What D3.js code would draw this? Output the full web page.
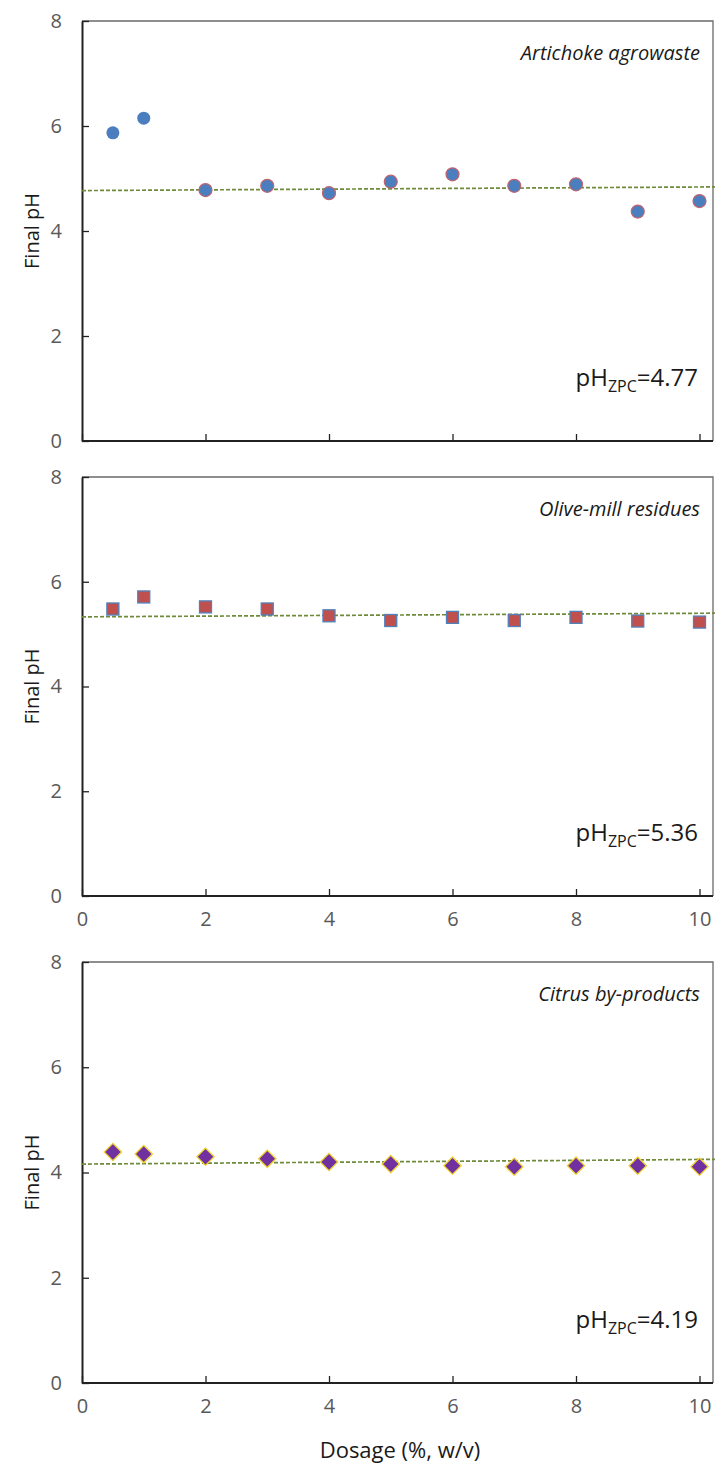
<!DOCTYPE html>
<html>
<head>
<meta charset="utf-8">
<script src="https://cdn.jsdelivr.net/npm/d3@7"></script>
<style>
  body { margin: 0; background: #fff; }
  svg text { font-family: "Open Sans", sans-serif; }
  .tick text { fill: #595959; font-size: 20px; }
</style>
</head>
<body>
<div id="chart"></div>
<script>
const W = 716, H = 1472;

// data
const dosage = [0.5, 1, 2, 3, 4, 5, 6, 7, 8, 9, 10];
const artichokePH = [5.87, 6.15, 4.78, 4.86, 4.72, 4.94, 5.08, 4.86, 4.89, 4.37, 4.57];
const oliveMillPH = [5.48, 5.71, 5.52, 5.48, 5.35, 5.26, 5.32, 5.26, 5.32, 5.25, 5.23];
const citrusPH = [4.39, 4.35, 4.30, 4.26, 4.20, 4.16, 4.13, 4.11, 4.13, 4.13, 4.11];
const trendX = [0, 10.25];
const artichokeTrend = [4.77, 4.84];
const oliveMillTrend = [5.33, 5.40];
const citrusTrend = [4.16, 4.25];
const panelNames = ["Artichoke agrowaste", "Olive-mill residues", "Citrus by-products"];
const zpcValues = ["4.77", "5.36", "4.19"];
const yTicks = [0, 2, 4, 6, 8];
const xTicks = [0, 2, 4, 6, 8, 10];

const left = 82, xEnd = 699.5, frameRight = 713;
const panels = [
  { top: 21, bottom: 441, values: artichokePH, trend: artichokeTrend, marker: "circle", xLabels: false },
  { top: 477, bottom: 896, values: oliveMillPH, trend: oliveMillTrend, marker: "square", xLabels: true },
  { top: 962, bottom: 1383, values: citrusPH, trend: citrusTrend, marker: "diamond", xLabels: true }
];

const svg = d3.select("#chart").append("svg")
  .attr("width", W)
  .attr("height", H);

const x = d3.scaleLinear().domain([0, 10]).range([left, xEnd]);

panels.forEach((p, k) => {
  const y = d3.scaleLinear().domain([0, 8]).range([p.bottom, p.top]);
  const g = svg.append("g");

  // top and right frame
  g.append("path")
    .attr("d", `M${left},${p.top}H${frameRight}V${p.bottom}`)
    .attr("fill", "none")
    .attr("stroke", "#6a6a6a")
    .attr("stroke-width", 1.3);

  const yAxis = g.append("g")
    .attr("transform", `translate(${left},0)`)
    .call(d3.axisLeft(y).tickValues(yTicks).tickSize(-7).tickSizeOuter(0).tickPadding(20));
  yAxis.select(".domain").attr("stroke", "#222").attr("stroke-width", 2);
  yAxis.selectAll(".tick line").attr("stroke", "#222").attr("stroke-width", 1.3);

  const xAxis = g.append("g")
    .attr("transform", `translate(0,${p.bottom})`)
    .call(d3.axisBottom(x).tickValues(xTicks).tickSize(-7).tickSizeOuter(0).tickPadding(20)
      .tickFormat(p.xLabels ? d3.format("d") : () => ""));
  xAxis.select(".domain").attr("d", `M${left},0H${frameRight}`).attr("stroke", "#222").attr("stroke-width", 2);
  xAxis.selectAll(".tick line").attr("stroke", "#222").attr("stroke-width", 1.3);
  xAxis.selectAll(".tick text").attr("dy", "0.5em");

  // trend line
  g.append("line")
    .attr("x1", x(trendX[0])).attr("y1", y(p.trend[0]))
    .attr("x2", x(trendX[1])).attr("y2", y(p.trend[1]))
    .attr("stroke", "#6f8a3a")
    .attr("stroke-width", 1.7)
    .attr("stroke-dasharray", "4,2");

  const pts = g.selectAll(".pt")
    .data(p.values)
    .enter();

  if (p.marker === "circle") {
    pts.append("circle")
      .attr("cx", (d, i) => x(dosage[i]))
      .attr("cy", d => y(d))
      .attr("r", 6.5)
      .attr("fill", "#4a7ebf")
      .attr("stroke", (d, i) => i < 2 ? "none" : "#c0646e")
      .attr("stroke-width", 1.2);
  } else if (p.marker === "square") {
    pts.append("rect")
      .attr("x", (d, i) => x(dosage[i]) - 6)
      .attr("y", d => y(d) - 6)
      .attr("width", 12)
      .attr("height", 12)
      .attr("fill", "#c0504d")
      .attr("stroke", "#4f81bd")
      .attr("stroke-width", 1.3);
  } else {
    pts.append("path")
      .attr("d", d3.symbol(d3.symbolSquare, 150))
      .attr("transform", (d, i) => `translate(${x(dosage[i])},${y(d)}) rotate(45)`)
      .attr("fill", "#7030a0")
      .attr("stroke", "#f2d22e")
      .attr("stroke-width", 1.3);
  }

  // series name
  g.append("text")
    .attr("x", 700)
    .attr("y", p.top + 39)
    .attr("text-anchor", "end")
    .attr("font-style", "italic")
    .attr("font-size", 20)
    .attr("fill", "#1a1a1a")
    .text(panelNames[k]);

  // pHzpc annotation
  const t = g.append("text")
    .attr("x", 698)
    .attr("y", p.bottom - 55)
    .attr("text-anchor", "end")
    .attr("font-size", 24)
    .attr("fill", "#1a1a1a");
  t.append("tspan").text("pH");
  t.append("tspan").attr("font-size", 16).attr("dy", 6).text("ZPC");
  t.append("tspan").attr("dy", -6).text("=" + zpcValues[k]);

  // y title
  g.append("text")
    .attr("transform", `translate(39,${(p.top + p.bottom) / 2}) rotate(-90)`)
    .attr("text-anchor", "middle")
    .attr("font-size", 20)
    .attr("fill", "#1a1a1a")
    .text("Final pH");
});

svg.append("text")
  .attr("x", 400)
  .attr("y", 1458)
  .attr("text-anchor", "middle")
  .attr("font-size", 22)
  .attr("fill", "#1a1a1a")
  .text("Dosage (%, w/v)");
</script>
</body>
</html>
